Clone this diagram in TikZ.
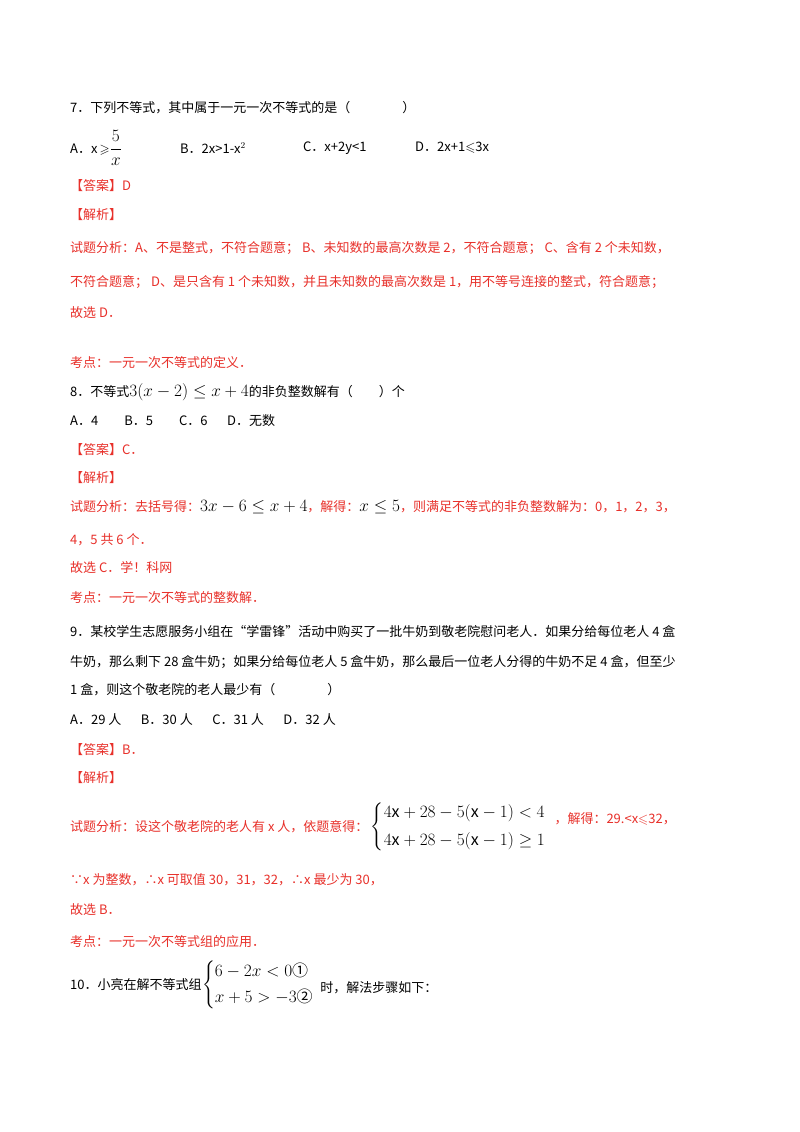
\documentclass[tikz,border=0pt]{standalone}
\usepackage{amsmath,amssymb}
\usepackage{fontspec}
\setmainfont{Noto Sans CJK SC}
\definecolor{ans}{HTML}{E8302A}
\newcommand{\mm}[1]{{\fontsize{16}{18}\selectfont$#1$}}
\begin{document}
\begin{tikzpicture}[x=1pt,y=-1pt,
  t/.style={anchor=west,inner sep=0pt,font=\fontsize{13}{15}\selectfont},
  r/.style={t,text=ans}]
\useasboundingbox[fill=white] (0,0) rectangle (800,1132);
\node[t] (q7) at (70,108) {7．下列不等式，其中属于一元一次不等式的是（\hspace{4em}）};
\node[t] (a7) at (70,148) {A．x\,$\geqslant$\mm{\dfrac{5}{x}}};
\node[t] (b7) at (180,148) {B．2x>1-x$^{2}$};
\node[t] (c7) at (303,148) {C．x+2y<1};
\node[t] (d7) at (415,148) {D．2x+1$\leqslant$3x};
\node[r] (k7) at (70,186) {【答案】D};
\node[r] (j7) at (70,215) {【解析】};
\node[r] (s7a) at (70,248) {试题分析：A、不是整式，不符合题意；\ B、未知数的最高次数是 2，不符合题意；\ C、含有 2 个未知数，};
\node[r] (s7b) at (70,282) {不符合题意；\ D、是只含有 1 个未知数，并且未知数的最高次数是 1，用不等号连接的整式，符合题意；};
\node[r] (s7c) at (70,313) {故选 D．};
\node[r] (p7) at (70,363) {考点：一元一次不等式的定义．};
\node[t] (q8) at (70,392) {8．不等式\mm{3(x-2)\le x+4}的非负整数解有（\hspace{2em}）个};
\node[t] (o8) at (70,421) {A．4\hspace{2em}B．5\hspace{2em}C．6\hspace{1.5em}D．无数};
\node[r] (k8) at (70,450) {【答案】C．};
\node[r] (j8) at (70,478) {【解析】};
\node[r] (s8a) at (70,507) {试题分析：去括号得：\textcolor{black}{\mm{3x-6\le x+4}}，解得：\textcolor{black}{{\fontsize{18}{20}\selectfont$x\le 5$}}，则满足不等式的非负整数解为：0，1，2，3，};
\node[r] (s8b) at (70,540) {4，5 共 6 个．};
\node[r] (s8c) at (70,568) {故选 C．学！科网};
\node[r] (p8) at (70,598) {考点：一元一次不等式的整数解．};
\node[t] (q9a) at (70,632) {9．某校学生志愿服务小组在“学雷锋”活动中购买了一批牛奶到敬老院慰问老人．如果分给每位老人 4 盒};
\node[t] (q9b) at (70,662) {牛奶，那么剩下 28 盒牛奶；如果分给每位老人 5 盒牛奶，那么最后一位老人分得的牛奶不足 4 盒，但至少};
\node[t] (q9c) at (70,690) {1 盒，则这个敬老院的老人最少有（\hspace{4em}）};
\node[t] (o9) at (70,720) {A．29 人\hspace{1.5em}B．30 人\hspace{1.5em}C．31 人\hspace{1.5em}D．32 人};
\node[r] (k9) at (70,750) {【答案】B．};
\node[r] (j9) at (70,778) {【解析】};
\node[r] (s9a) at (70,827) {试题分析：设这个敬老院的老人有 x 人，依题意得：};
\node[t] (sys9) at (s9a.east) [anchor=west,xshift=2pt] {\mm{\begin{cases}4\mathrm{x}+28-5(\mathrm{x}-1)<4\\[6pt] 4\mathrm{x}+28-5(\mathrm{x}-1)\ge 1\end{cases}}};
\node[r] (s9b) at (sys9.east) [anchor=west,xshift=-8pt,yshift=8pt] {，解得：29.<x$\leqslant$32，};
\node[r] (s9c) at (70,880) {∵x 为整数，∴x 可取值 30，31，32，∴x 最少为 30，};
\node[r] (s9d) at (70,910) {故选 B．};
\node[r] (p9) at (70,942) {考点：一元一次不等式组的应用．};
\node[t] (q10) at (70,985) {10．小亮在解不等式组};
\node[t] (sys10) at (q10.east) [anchor=west] {\mm{\begin{cases}6-2x<0\text{①}\\[4pt] x+5>-3\text{②}\end{cases}}};
\node[t] (q10b) at (sys10.east) [anchor=west,xshift=-10pt,yshift=-3pt] {时，解法步骤如下：};
\end{tikzpicture}
\end{document}
